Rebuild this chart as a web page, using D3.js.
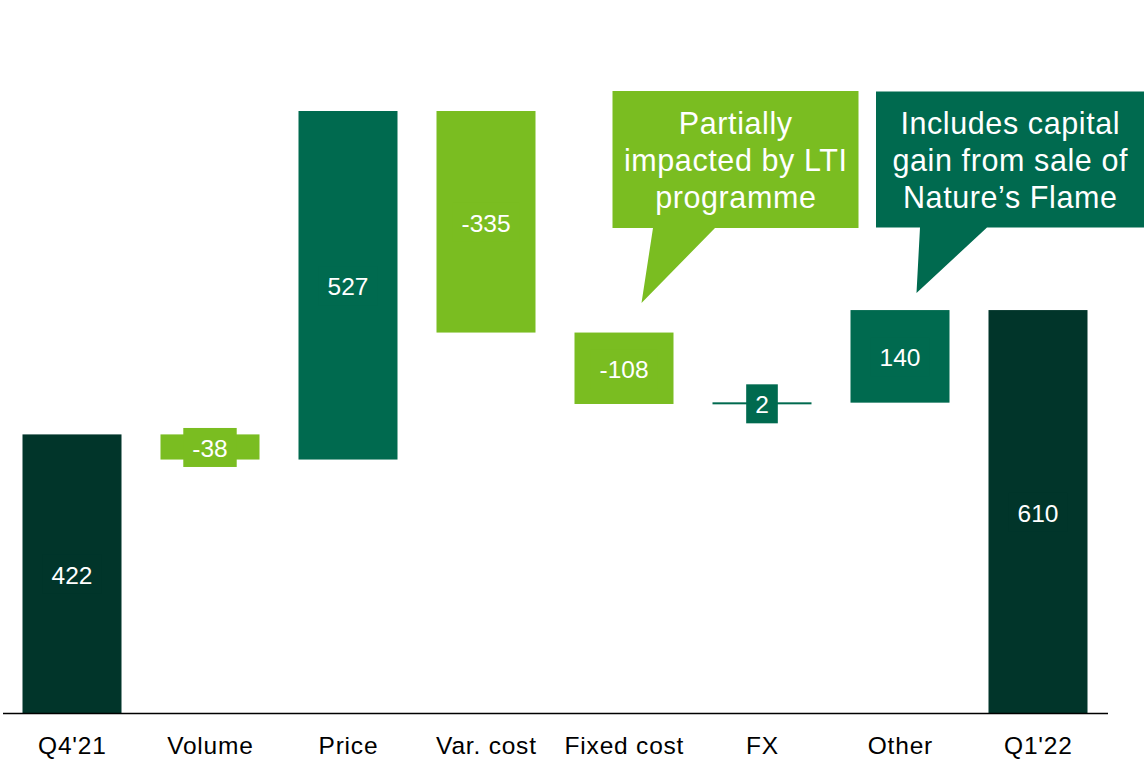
<!DOCTYPE html>
<html>
<head>
<meta charset="utf-8">
<script src="https://cdn.jsdelivr.net/npm/d3@7"></script>
<style>
  html, body { margin: 0; padding: 0; background: #ffffff; }
  svg { display: block; font-family: "Liberation Sans", Arial, sans-serif; }
</style>
</head>
<body>
<svg id="chart" width="1145" height="764"></svg>
<script>
// ---- data ----
const categories = ["Q4'21", "Volume", "Price", "Var. cost", "Fixed cost", "FX", "Other", "Q1'22"];
const values = [422, -38, 527, -335, -108, 2, 140, 610];
const kinds = ["total", "delta", "delta", "delta", "delta", "delta", "delta", "total"];
const calloutTexts = [
  ["Partially", "impacted by LTI", "programme"],
  ["Includes capital", "gain from sale of", "Nature\u2019s Flame"]
];
const calloutTargets = ["Fixed cost", "Other"];

// ---- colours ----
const cTotal = "#01352a";
const cUp = "#006a4f";
const cDown = "#7abd21";

// ---- compute waterfall ----
let running = 0;
const bars = categories.map((c, i) => {
  let y0, y1;
  if (kinds[i] === "total") { y0 = 0; y1 = values[i]; running = values[i]; }
  else { y0 = running; y1 = running + values[i]; running = y1; }
  const fill = kinds[i] === "total" ? cTotal : (values[i] >= 0 ? cUp : cDown);
  return { cat: c, value: values[i], lo: Math.min(y0, y1), hi: Math.max(y0, y1), fill };
});

const svg = d3.select("#chart");
const x = d3.scaleBand().domain(categories).range([3, 1107]).paddingInner(0.2826).paddingOuter(0.1413);
const y = d3.scaleLinear().domain([0, 911]).range([713.5, 111]);

// bars
svg.append("g").selectAll("rect").data(bars).join("rect")
  .attr("x", d => x(d.cat))
  .attr("width", x.bandwidth())
  .attr("y", d => Math.min(y(d.hi), (y(d.hi) + y(d.lo)) / 2 - 1))
  .attr("height", d => Math.max(y(d.lo) - y(d.hi), 2))
  .attr("fill", d => d.fill);

// value labels with background boxes
const lab = svg.append("g").selectAll("g").data(bars).join("g")
  .attr("transform", d => `translate(${x(d.cat) + x.bandwidth() / 2},${(y(d.hi) + y(d.lo)) / 2 + 1})`);
lab.each(function(d) {
  const g = d3.select(this);
  const t = g.append("text")
    .attr("text-anchor", "middle")
    .attr("dy", "0.36em")
    .attr("fill", "#ffffff")
    .attr("font-size", 24.5)
    .text(d.value);
  const w = t.node().getComputedTextLength();
  g.insert("rect", "text")
    .attr("x", -w / 2 - 9)
    .attr("width", w + 18)
    .attr("y", -20)
    .attr("height", 39)
    .attr("fill", d.fill);
});

// axis line
svg.append("line")
  .attr("x1", 3).attr("x2", 1108)
  .attr("y1", 713.5).attr("y2", 713.5)
  .attr("stroke", "#000").attr("stroke-width", 1.5);

// category labels
const xAxis = d3.axisBottom(x).tickSize(0).tickPadding(0);
const ax = svg.append("g").attr("transform", "translate(0.4,737)").call(xAxis);
ax.select(".domain").remove();
ax.selectAll("text").attr("font-size", 24.5).attr("fill", "#000")
  .attr("letter-spacing", "0.8px")
  .attr("font-family", "Liberation Sans, Arial, sans-serif").attr("dy", "0.71em");

// callouts
const callouts = [
  { box: [612.5, 91, 246, 137], base: [653, 715], fill: cDown, text: calloutTexts[0], target: calloutTargets[0], tipDx: 67, tipY: 303 },
  { box: [876, 91.5, 268, 136], base: [920, 987], fill: cUp, text: calloutTexts[1], target: calloutTargets[1], tipDx: 66, tipY: 293 }
];
callouts.forEach(c => {
  const [bx, by, bw, bh] = c.box;
  const tipX = x(c.target) + c.tipDx;
  const g = svg.append("g");
  g.append("path")
    .attr("d", `M${bx},${by}H${bx + bw}V${by + bh}H${c.base[1]}L${tipX},${c.tipY}L${c.base[0]},${by + bh}H${bx}Z`)
    .attr("fill", c.fill);
  c.text.forEach((line, i) => {
    g.append("text")
      .attr("x", bx + bw / 2 + 0.3)
      .attr("y", 133.5 + i * 37.3)
      .attr("text-anchor", "middle")
      .attr("fill", "#ffffff")
      .attr("font-size", 30.5)
      .attr("letter-spacing", "0.6px")
      .text(line);
  });
});
</script>
</body>
</html>
